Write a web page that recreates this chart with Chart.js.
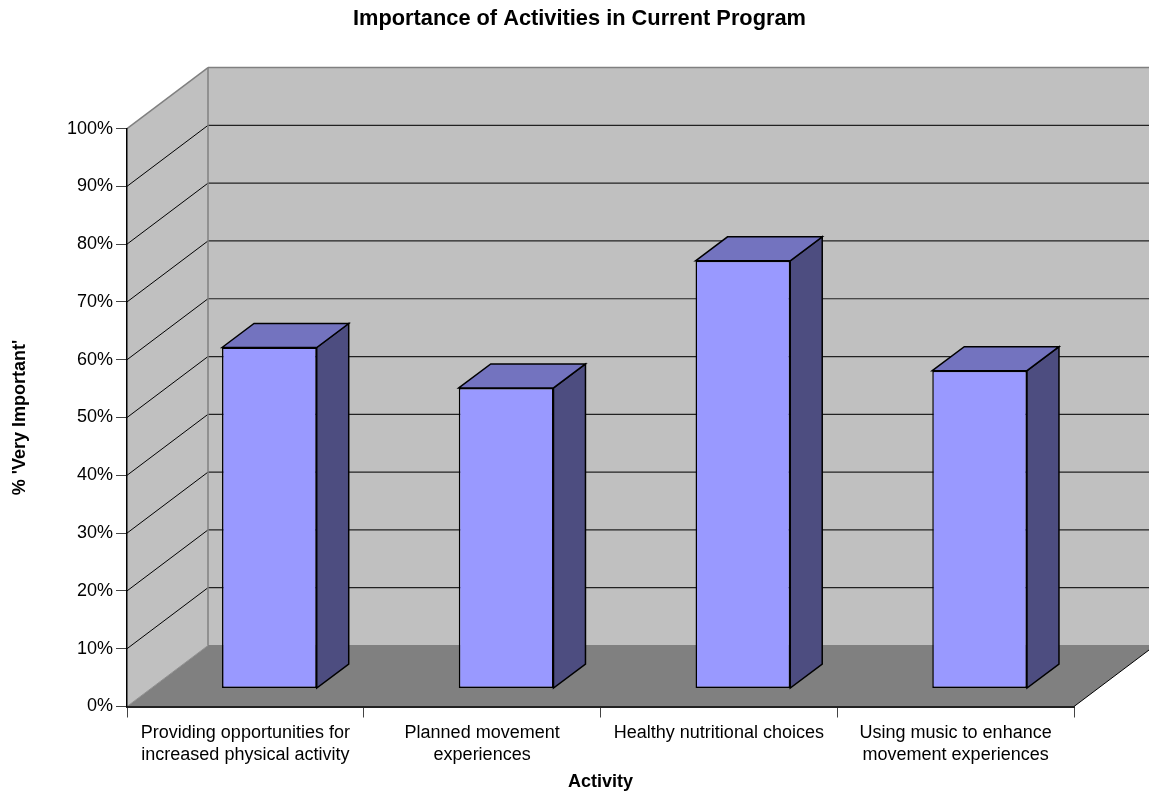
<!DOCTYPE html>
<html>
<head>
<meta charset="utf-8">
<title>Importance of Activities in Current Program</title>
<script src="https://cdn.jsdelivr.net/npm/chart.js@4/dist/chart.umd.min.js"></script>
<style>
  body { margin: 0; background: #fff; }
  canvas { display: block; }
</style>
</head>
<body>
<canvas id="activityChart" width="1149" height="793"></canvas>
<script>
// Survey results
var CATEGORIES = [
    ["Providing opportunities for", "increased physical activity"],
    ["Planned movement", "experiences"],
    "Healthy nutritional choices",
    ["Using music to enhance", "movement experiences"]
];
var VERY_IMPORTANT = [59, 52, 74, 55];

// Fake 3D offsets, in px
var WALL_DX = 81, WALL_DY = 61;
var BAR_DX = 32, BAR_DY = 24;
var BAR_SHIFT_X = 24, BAR_SHIFT_Y = 18;

var FONT = "'Liberation Sans', Arial, sans-serif";

function poly(ctx, pts, fill, stroke, lw) {
    ctx.beginPath();
    ctx.moveTo(pts[0][0], pts[0][1]);
    for (var i = 1; i < pts.length; i++) ctx.lineTo(pts[i][0], pts[i][1]);
    ctx.closePath();
    if (fill) { ctx.fillStyle = fill; ctx.fill(); }
    if (stroke) { ctx.strokeStyle = stroke; ctx.lineWidth = lw; ctx.stroke(); }
}

function line(ctx, x1, y1, x2, y2, color, lw) {
    ctx.beginPath();
    ctx.moveTo(x1, y1);
    ctx.lineTo(x2, y2);
    ctx.strokeStyle = color;
    ctx.lineWidth = lw;
    ctx.stroke();
}

// Walls, floor and the grid lines that run over them
var box3d = {
    id: 'box3d',
    afterLayout: function (chart) {
        // title is centred a little right of the canvas middle
        chart.titleBlock.right = chart.width + 10;
    },
    beforeDatasetsDraw: function (chart) {
        var ctx = chart.ctx, a = chart.chartArea, y = chart.scales.y;
        var l = a.left, r = a.right, t = a.top, b = a.bottom;

        ctx.save();
        poly(ctx, [[l, t], [l + WALL_DX, t - WALL_DY], [l + WALL_DX, b - WALL_DY], [l, b]], '#c0c0c0');
        poly(ctx, [[l + WALL_DX, t - WALL_DY], [r + WALL_DX, t - WALL_DY], [r + WALL_DX, b - WALL_DY], [l + WALL_DX, b - WALL_DY]], '#c0c0c0');
        poly(ctx, [[l, b], [r, b], [r + WALL_DX, b - WALL_DY], [l + WALL_DX, b - WALL_DY]], '#808080');

        y.ticks.forEach(function (tick) {
            var py = y.getPixelForValue(tick.value);
            if (tick.value > 0 && tick.value < 100) {
                line(ctx, l, py, l + WALL_DX, py - WALL_DY, '#000', 1);
                line(ctx, l + WALL_DX, py - WALL_DY, r + WALL_DX, py - WALL_DY, '#222', 1.2);
            }
        });

        // wall edges
        line(ctx, l, t, l + WALL_DX, t - WALL_DY, '#808080', 1.5);
        line(ctx, l + WALL_DX, t - WALL_DY, r + WALL_DX, t - WALL_DY, '#808080', 1.5);
        line(ctx, l + WALL_DX, t - WALL_DY, l + WALL_DX, b - WALL_DY, '#808080', 1.5);
        line(ctx, l, b, l + WALL_DX, b - WALL_DY, '#909090', 1);
        line(ctx, l + WALL_DX, b - WALL_DY, r + WALL_DX, b - WALL_DY, '#808080', 1);
        line(ctx, r, b, r + WALL_DX, b - WALL_DY, '#000', 1);

        // everything the bar controller draws next is pushed back onto the floor
        ctx.translate(BAR_SHIFT_X, -BAR_SHIFT_Y);
        chart.getDatasetMeta(0).data.forEach(function (bar) {
            var x0 = bar.x - bar.width / 2, x1 = bar.x + bar.width / 2;
            poly(ctx, [[x1, bar.y], [x1 + BAR_DX, bar.y - BAR_DY], [x1 + BAR_DX, bar.base - BAR_DY], [x1, bar.base]], '#4d4d80', '#000', 1.5);
            poly(ctx, [[x0, bar.y], [x0 + BAR_DX, bar.y - BAR_DY], [x1 + BAR_DX, bar.y - BAR_DY], [x1, bar.y]], '#7373bf', '#000', 1.5);
        });
    },
    afterDatasetsDraw: function (chart) {
        chart.ctx.restore();
    }
};

new Chart(document.getElementById("activityChart").getContext("2d"), {
    type: 'bar',
    plugins: [box3d],
    data: {
        labels: CATEGORIES,
        datasets: [{
            data: VERY_IMPORTANT,
            backgroundColor: '#9999ff',
            borderColor: '#000',
            borderWidth: 1.5,
            borderSkipped: false,
            barPercentage: 0.4,
            categoryPercentage: 1,
            clip: false
        }]
    },
    options: {
        responsive: false,
        animation: false,
        layout: { padding: { left: 0, right: 75, top: 0, bottom: 0 } },
        plugins: {
            legend: { display: false },
            tooltip: { enabled: false },
            title: {
                display: true,
                text: 'Importance of Activities in Current Program',
                color: '#000',
                font: { family: FONT, size: 21.8, weight: 'bold', lineHeight: 1.2 },
                padding: { top: 5.5, bottom: 96.9 }
            }
        },
        scales: {
            x: {
                grid: { display: true, drawOnChartArea: false, drawTicks: true, tickLength: 11, color: '#444', z: 1 },
                border: { display: true, color: '#222', width: 2, z: 1 },
                ticks: {
                    color: '#000',
                    font: { family: FONT, size: 18, lineHeight: 1.222 },
                    padding: 5,
                    maxRotation: 0,
                    autoSkip: false
                },
                title: {
                    display: true,
                    text: 'Activity',
                    color: '#000',
                    font: { family: FONT, size: 18, weight: 'bold' },
                    padding: { top: 0, bottom: 0 }
                },
                afterFit: function (scale) { scale.height = 86.5; }
            },
            y: {
                min: 0,
                max: 100,
                grid: { display: true, drawOnChartArea: false, drawTicks: true, tickLength: 11, color: '#444', z: 1 },
                border: { display: true, color: '#000', width: 1.5, z: 1 },
                ticks: {
                    stepSize: 10,
                    color: '#000',
                    font: { family: FONT, size: 18 },
                    padding: 3,
                    callback: function (value) { return value + '%'; }
                },
                title: {
                    display: true,
                    text: "% 'Very Important'",
                    color: '#000',
                    font: { family: FONT, size: 18, weight: 'bold' },
                    padding: { top: 9, bottom: 0 }
                },
                afterFit: function (scale) { scale.width = 127; }
            }
        }
    }
});
</script>
</body>
</html>
